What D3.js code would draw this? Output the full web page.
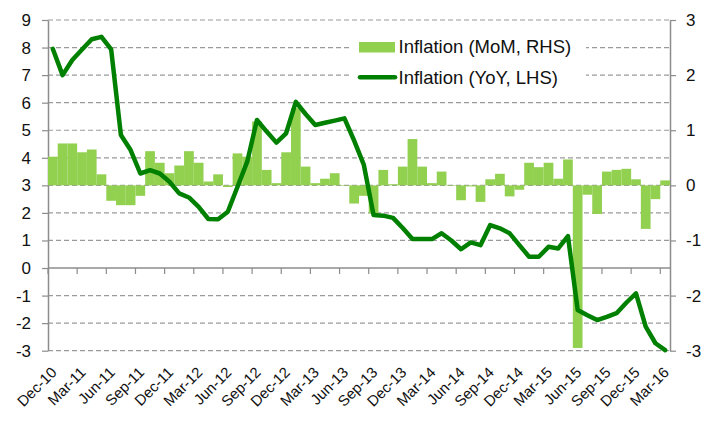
<!DOCTYPE html>
<html>
<head>
<meta charset="utf-8">
<script src="https://cdn.jsdelivr.net/npm/d3@7"></script>
<style>
  body { margin: 0; background: #fff; }
  text { font-family: "Liberation Sans", Arial, sans-serif; fill: #111; }
</style>
</head>
<body>
<div class="mainContainer"></div>
<script>
// monthly categories Dec-10 .. Mar-16
const months = d3.timeMonths(new Date(2010, 11, 1), new Date(2016, 3, 1));
const fmt = d3.timeFormat("%b-%y");
const categories = months.map(fmt);

// labels shown every third month
const tickLabels = ["Dec-10", "Mar-11", "Jun-11", "Sep-11", "Dec-11", "Mar-12", "Jun-12", "Sep-12",
  "Dec-12", "Mar-13", "Jun-13", "Sep-13", "Dec-13", "Mar-14", "Jun-14", "Sep-14",
  "Dec-14", "Mar-15", "Jun-15", "Sep-15", "Dec-15", "Mar-16"];

// Inflation MoM (right axis)
const mom = [0.52, 0.76, 0.76, 0.60, 0.65, 0.20, -0.28, -0.36, -0.36, -0.19, 0.62, 0.41,
  0.22, 0.36, 0.62, 0.41, 0.07, 0.20, -0.03, 0.58, 0.52, 1.16, 0.28, 0.04,
  0.60, 1.40, 0.34, 0.04, 0.12, 0.22, -0.01, -0.33, -0.19, -0.51, 0.28, 0.02,
  0.34, 0.84, 0.34, 0.04, 0.25, -0.01, -0.27, -0.02, -0.30, 0.11, 0.21, -0.20,
  -0.08, 0.41, 0.33, 0.41, 0.12, 0.47, -2.95, -0.17, -0.52, 0.25, 0.28, 0.30,
  0.11, -0.79, -0.25, 0.09];

// Inflation YoY (left axis)
const yoy = [7.95, 7.00, 7.55, 7.93, 8.30, 8.39, 7.93, 4.83, 4.28, 3.43, 3.55, 3.43,
  3.13, 2.71, 2.56, 2.22, 1.78, 1.77, 2.04, 2.95, 3.86, 5.37, 4.95, 4.55,
  4.89, 6.03, 5.59, 5.19, 5.27, 5.35, 5.43, 4.62, 3.74, 1.92, 1.90, 1.82,
  1.45, 1.05, 1.05, 1.05, 1.26, 1.00, 0.68, 0.93, 0.83, 1.56, 1.44, 1.26,
  0.83, 0.41, 0.41, 0.77, 0.71, 1.16, -1.52, -1.71, -1.89, -1.77, -1.64, -1.26,
  -0.92, -2.13, -2.73, -2.98];

const leftTicks = d3.range(-3, 10);
const rightTicks = d3.range(-3, 4);

let width = 712;
let height = 421;
let plotLeft = 48, plotRight = 670, plotTop = 20, plotBottom = 350.7;
let axisColor = "#8c8c8c";

const x = d3.scaleBand().domain(d3.range(categories.length)).range([plotLeft, plotRight]).padding(0);
const yL = d3.scaleLinear().domain([-3, 9]).range([plotBottom, plotTop]);
const yR = d3.scaleLinear().domain([-3, 3]).range([plotBottom, plotTop]);

const svg = d3.select(".mainContainer")
  .append("svg")
  .attr("width", width)
  .attr("height", height);

// gridlines
svg.append("g")
  .selectAll("line")
  .data(leftTicks.filter(d => d !== 0))
  .enter()
  .append("line")
  .attr("x1", plotLeft).attr("x2", plotRight)
  .attr("y1", d => yL(d)).attr("y2", d => yL(d))
  .attr("stroke", "#9a9a9a")
  .attr("stroke-width", 1.2)
  .attr("stroke-dasharray", "5,3");

// left axis
const gl = svg.append("g")
  .attr("transform", "translate(" + plotLeft + ",0)")
  .call(d3.axisLeft(yL).tickValues(leftTicks).tickFormat(d => String(d))
    .tickSize(6).tickSizeOuter(0).tickPadding(11));
gl.select(".domain").attr("stroke", axisColor).attr("stroke-width", 1.5);
gl.selectAll(".tick line").attr("stroke", axisColor).attr("stroke-width", 1.2);
gl.selectAll(".tick text").style("font-size", "17px").attr("fill", "#111")
  .style("font-family", "Liberation Sans, Arial, sans-serif");

// right axis
const gr = svg.append("g")
  .attr("transform", "translate(" + plotRight + ",0)")
  .call(d3.axisRight(yR).tickValues(rightTicks).tickFormat(d => String(d))
    .tickSize(6).tickSizeOuter(0).tickPadding(10));
gr.select(".domain").attr("stroke", axisColor).attr("stroke-width", 1.5);
gr.selectAll(".tick line").attr("stroke", axisColor).attr("stroke-width", 1.2);
gr.selectAll(".tick text").style("font-size", "17px").attr("fill", "#111")
  .style("font-family", "Liberation Sans, Arial, sans-serif");

// category axis at left zero
const y0 = yL(0);
svg.append("line")
  .attr("x1", plotLeft).attr("x2", plotRight)
  .attr("y1", y0).attr("y2", y0)
  .attr("stroke", axisColor).attr("stroke-width", 1.5);

const tickIdx = d3.range(0, categories.length, 3);
svg.append("g")
  .selectAll("line")
  .data(tickIdx)
  .enter()
  .append("line")
  .attr("x1", d => x(d)).attr("x2", d => x(d))
  .attr("y1", y0).attr("y2", y0 + 6)
  .attr("stroke", axisColor).attr("stroke-width", 1.2);

// bars (MoM, RHS)
svg.append("g")
  .selectAll("rect")
  .data(mom)
  .enter()
  .append("rect")
  .attr("x", (d, i) => x(i))
  .attr("width", x.bandwidth())
  .attr("y", d => yR(Math.max(0, d)))
  .attr("height", d => Math.abs(yR(d) - yR(0)))
  .attr("fill", "#92D050");

// line (YoY, LHS)
const line = d3.line()
  .x((d, i) => x(i) + x.bandwidth() / 2)
  .y(d => yL(d));

svg.append("path")
  .datum(yoy)
  .attr("d", line)
  .attr("fill", "none")
  .attr("stroke", "#008000")
  .attr("stroke-width", 4.5)
  .attr("stroke-linejoin", "round")
  .attr("stroke-linecap", "round");

// x labels sit below the plot (low position)
svg.append("g")
  .selectAll("text")
  .data(tickIdx)
  .enter()
  .append("text")
  .text((d, i) => tickLabels[i] || categories[d])
  .attr("transform", d => "translate(" + (x(d) + x.bandwidth() / 2 + 1) + "," + (plotBottom + 19) + ") rotate(-45)")
  .attr("text-anchor", "end")
  .attr("dy", "0.35em")
  .style("font-size", "15px");

// legend
const lg = svg.append("g");
lg.append("rect")
  .attr("x", 350).attr("y", 32).attr("width", 236).attr("height", 60)
  .attr("fill", "#fff");
lg.append("rect")
  .attr("x", 359).attr("y", 42).attr("width", 36).attr("height", 10.5)
  .attr("fill", "#92D050");
lg.append("text")
  .attr("x", 398.5).attr("y", 53.3)
  .text("Inflation (MoM, RHS)")
  .style("font-size", "18.5px");
lg.append("line")
  .attr("x1", 360).attr("x2", 395).attr("y1", 77.3).attr("y2", 77.3)
  .attr("stroke", "#008000").attr("stroke-width", 4.5).attr("stroke-linecap", "round");
lg.append("text")
  .attr("x", 398.5).attr("y", 84)
  .text("Inflation (YoY, LHS)")
  .style("font-size", "18.5px");
</script>
</body>
</html>
